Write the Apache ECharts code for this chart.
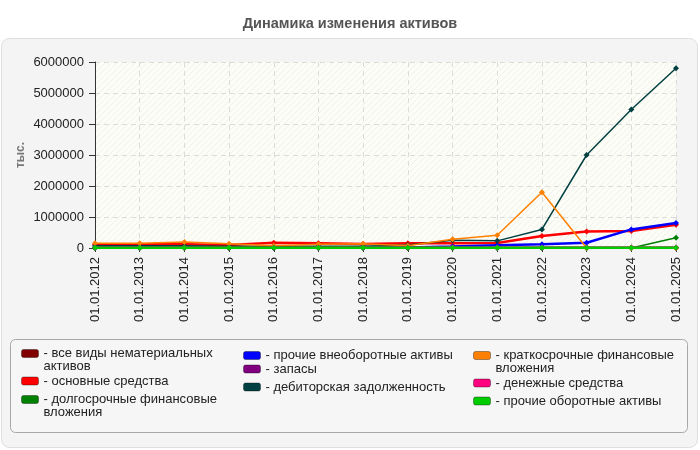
<!DOCTYPE html>
<html>
<head>
<meta charset="utf-8">
<script src="https://cdn.jsdelivr.net/npm/echarts@6/dist/echarts.min.js"></script>
<style>
html,body{margin:0;padding:0;background:#fff;}
#main{width:700px;height:450px;}
</style>
</head>
<body>
<div id="main"></div>
<script>
var categories = ['01.01.2012','01.01.2013','01.01.2014','01.01.2015','01.01.2016','01.01.2017','01.01.2018','01.01.2019','01.01.2020','01.01.2021','01.01.2022','01.01.2023','01.01.2024','01.01.2025'];
var yTicks = [0,1000000,2000000,3000000,4000000,5000000,6000000];

var intangible      = [10000,10000,10000,10000,10000,10000,10000,10000,10000,10000,10000,10000,10000,10000];
var fixedAssets     = [120000,120000,120000,100000,170000,150000,130000,150000,150000,160000,390000,530000,550000,750000];
var longTermInv     = [0,0,0,0,0,0,0,0,0,0,0,0,0,330000];
var otherNonCurrent = [20000,20000,20000,20000,20000,20000,20000,20000,50000,90000,120000,170000,600000,810000];
var inventories     = [10000,10000,10000,10000,10000,10000,10000,10000,10000,10000,5000,5000,10000,10000];
var receivables     = [70000,70000,70000,60000,60000,60000,60000,100000,250000,230000,600000,3000000,4470000,5800000];
var shortTermInv    = [150000,150000,190000,140000,70000,120000,140000,70000,280000,410000,1800000,0,0,0];
var cash            = [20000,20000,20000,20000,20000,20000,20000,20000,20000,20000,20000,20000,20000,20000];
var otherCurrent    = [5000,5000,5000,5000,5000,5000,5000,5000,5000,5000,5000,5000,5000,5000];

var names = {
  intangible: 'все виды нематериальных активов',
  fixed: 'основные средства',
  longInv: 'долгосрочные финансовые вложения',
  otherNC: 'прочие внеоборотные активы',
  inv: 'запасы',
  rec: 'дебиторская задолженность',
  shortInv: 'краткосрочные финансовые вложения',
  cash: 'денежные средства',
  otherC: 'прочие оборотные активы'
};
var wrapped = {};
wrapped[names.intangible] = ' \n- все виды нематериальных\nактивов';
wrapped[names.longInv] = ' \n- долгосрочные финансовые\nвложения';
wrapped[names.shortInv] = ' \n- краткосрочные финансовые\nвложения';

// hatch pattern for plot background
var pc = document.createElement('canvas');
pc.width = 6; pc.height = 6;
var ctx = pc.getContext('2d');
ctx.fillStyle = '#fdfdf7';
ctx.fillRect(0,0,6,6);
ctx.strokeStyle = '#f1f1ea';
ctx.lineWidth = 1;
ctx.beginPath();
ctx.moveTo(0,6); ctx.lineTo(6,0);
ctx.moveTo(-1,1); ctx.lineTo(1,-1);
ctx.moveTo(5,7); ctx.lineTo(7,5);
ctx.stroke();

function mkSeries(name, data, color, width, z) {
  return {
    name: name, type: 'line', data: data, z: z,
    symbol: 'diamond', symbolSize: 6, showSymbol: true,
    lineStyle: {color: color, width: width},
    itemStyle: {color: color},
    emphasis: {disabled: true},
    animation: false
  };
}

var FONT = 'Liberation Sans, Arial, sans-serif';
var legendFont = {fontFamily: FONT, fontSize: 13, color: '#222', lineHeight: 13};
function mkLegend(name, left, iconY, twoLine) {
  var top = twoLine ? iconY - 19.5 : iconY - 6.5;
  return {
    data: [name], left: left, top: top, padding: 0,
    icon: 'roundRect', itemWidth: 17, itemHeight: 8,
    itemStyle: {borderColor: 'rgba(0,0,0,0.35)', borderWidth: 1},
    textStyle: legendFont,
    selectedMode: false,
    formatter: function (n) { return wrapped[n] || ('- ' + n); }
  };
}

var chart = echarts.init(document.getElementById('main'));
chart.setOption({
  backgroundColor: '#ffffff',
  animation: false,
  title: {
    text: 'Динамика изменения активов', left: 'center', top: 11,
    textStyle: {fontFamily: FONT, fontSize: 14.5, fontWeight: 'bold', color: '#555'}
  },
  graphic: [
    {type: 'rect', z: -10, shape: {x: 1.5, y: 38.5, width: 696, height: 409, r: 8}, style: {fill: '#f4f4f4', stroke: '#dedede', lineWidth: 1}},
    {type: 'rect', z: -9, shape: {x: 10.5, y: 339.5, width: 677, height: 93, r: 5}, style: {fill: '#f6f6f6', stroke: '#a8a8a8', lineWidth: 1}}
  ],
  legend: [
    mkLegend(names.intangible, 21, 353.5, true),
    mkLegend(names.fixed, 21, 381, false),
    mkLegend(names.longInv, 21, 399.5, true),
    mkLegend(names.otherNC, 243, 355.5, false),
    mkLegend(names.inv, 243, 369, false),
    mkLegend(names.rec, 243, 387, false),
    mkLegend(names.shortInv, 473, 355.5, true),
    mkLegend(names.cash, 473, 383, false),
    mkLegend(names.otherC, 473, 401, false)
  ],
  grid: {
    left: 95, right: 24, top: 62, bottom: 202, containLabel: false,
    show: true, borderWidth: 0,
    backgroundColor: {image: pc, repeat: 'repeat'}
  },
  xAxis: {
    type: 'category', data: categories, boundaryGap: false,
    axisLine: {show: true, lineStyle: {color: '#333', width: 1}},
    axisTick: {show: true, length: 4, alignWithLabel: true, lineStyle: {color: '#333'}},
    axisLabel: {rotate: 90, interval: 0, margin: 9, fontFamily: FONT, fontSize: 13, color: '#222'},
    splitLine: {show: true, lineStyle: {color: '#dcdcdc', type: [5, 4], width: 1}}
  },
  yAxis: {
    type: 'value', min: yTicks[0], max: yTicks[yTicks.length - 1], interval: yTicks[1] - yTicks[0],
    name: 'тыс.', nameLocation: 'middle', nameGap: 68, nameMoveOverlap: false,
    nameTextStyle: {fontFamily: FONT, fontSize: 12, fontWeight: 'bold', color: '#777'},
    axisLine: {show: true, lineStyle: {color: '#333', width: 1}},
    axisTick: {show: true, length: 6, lineStyle: {color: '#333'}},
    axisLabel: {margin: 11, fontFamily: FONT, fontSize: 13, color: '#222', formatter: function (v) { return String(v); }},
    splitLine: {show: true, lineStyle: {color: '#dcdcdc', type: [5, 4], width: 1}}
  },
  series: [
    mkSeries(names.intangible, intangible, '#800000', 2, 2),
    mkSeries(names.fixed, fixedAssets, '#ff0000', 2.5, 3),
    mkSeries(names.longInv, longTermInv, '#008000', 1.5, 4),
    mkSeries(names.otherNC, otherNonCurrent, '#0000ff', 2.5, 5),
    mkSeries(names.inv, inventories, '#800080', 2, 6),
    mkSeries(names.rec, receivables, '#004040', 1.5, 7),
    mkSeries(names.shortInv, shortTermInv, '#ff8000', 1.5, 8),
    mkSeries(names.cash, cash, '#ff0080', 2, 9),
    mkSeries(names.otherC, otherCurrent, '#00cc00', 2.5, 10)
  ]
});
</script>
</body>
</html>
